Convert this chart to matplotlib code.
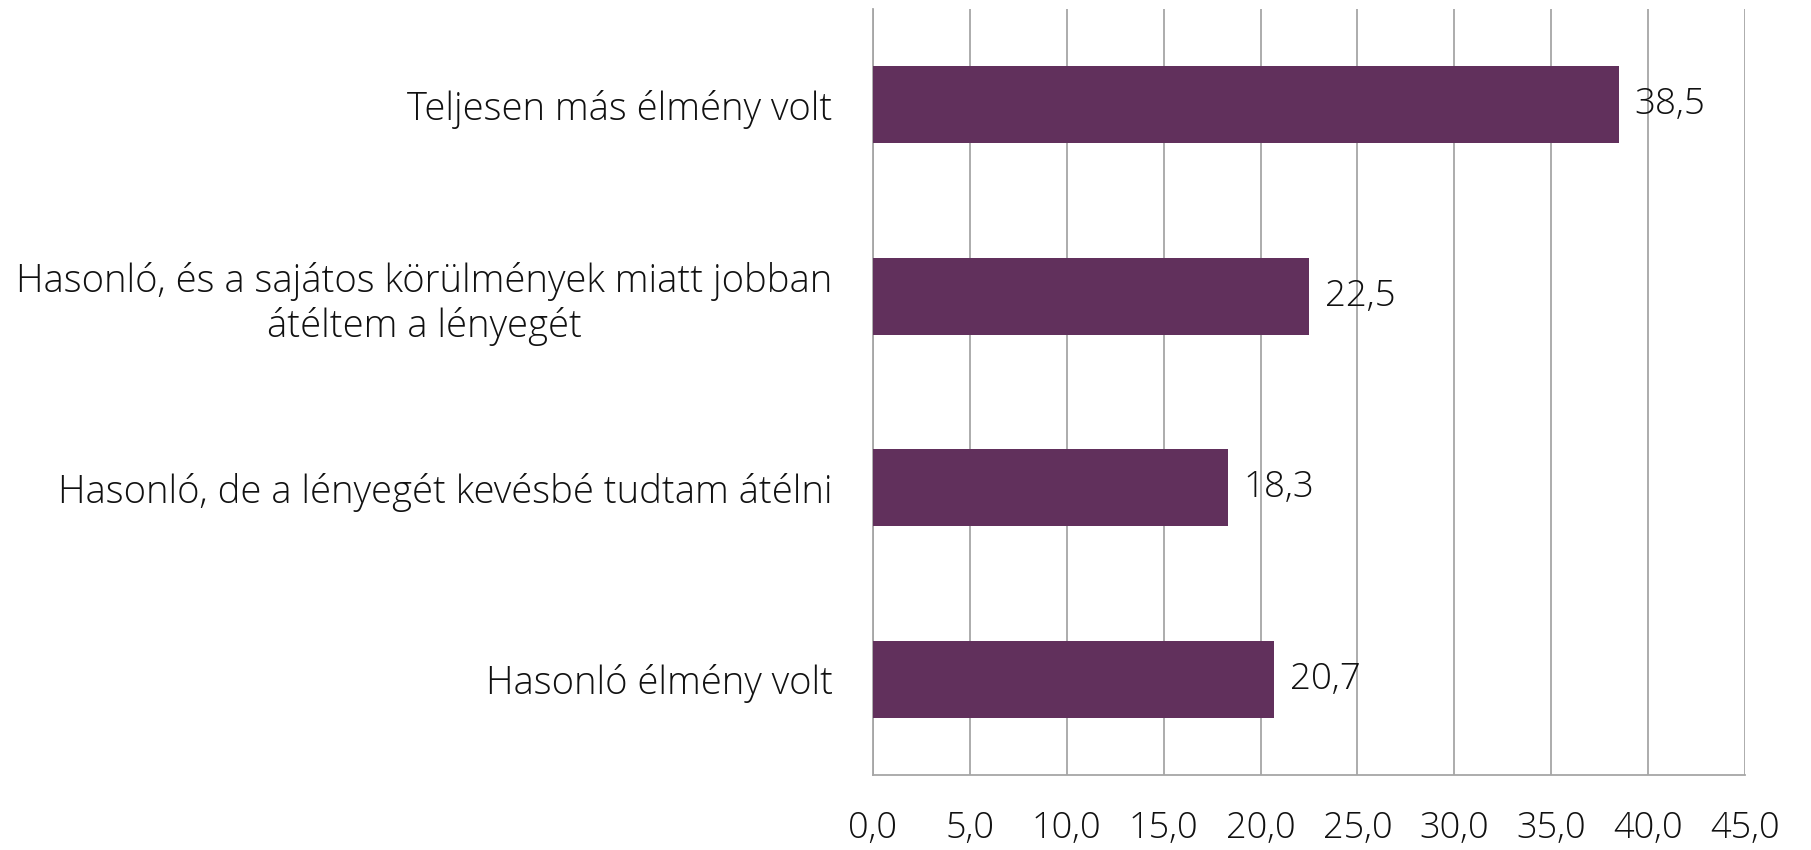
import matplotlib.pyplot as plt

# Válaszkategóriák (alulról felfelé) és százalékos értékek
categories = [
    "Hasonló élmény volt",
    "Hasonló, de a lényegét kevésbé tudtam átélni",
    "Hasonló, és a sajátos körülmények miatt jobban\nátéltem a lényegét",
    "Teljesen más élmény volt",
]
values = [20.7, 18.3, 22.5, 38.5]
xticks = [0, 5, 10, 15, 20, 25, 30, 35, 40, 45]

bar_color = "#61305c"
grid_color = "#a6a6a6"
text_color = "#111111"

plt.rcParams["font.family"] = ["Open Sans", "DejaVu Sans"]
plt.rcParams["font.weight"] = "light"

fig = plt.figure(figsize=(18.11, 8.5), dpi=100)
ax = fig.add_axes([873 / 1811, 1 - 775 / 850, (1745 - 873) / 1811, (775 - 9) / 850])

y = range(len(categories))
ax.barh(y, values, height=0.4, color=bar_color, zorder=3)

for yi, v in zip(y, values):
    ax.text(v + 0.8, yi, f"{v:.1f}".replace(".", ","), va="center", ha="left",
            fontsize=26.5, color=text_color, zorder=4)

ax.set_xlim(0, 45)
ax.set_ylim(-0.5, 3.5)
ax.set_xticks(xticks)
ax.set_xticklabels([f"{t:.1f}".replace(".", ",") for t in xticks], fontsize=26, color=text_color)
ax.set_yticks(list(y))
ax.set_yticklabels(categories, fontsize=27.5, color=text_color, ha="right", multialignment="center")
ax.tick_params(axis="x", length=0, pad=25)
ax.tick_params(axis="y", length=0, pad=29)

ax.grid(axis="x", color=grid_color, linewidth=1.3, zorder=0)
for side in ["top", "right"]:
    ax.spines[side].set_visible(False)
for side in ["left", "bottom"]:
    ax.spines[side].set_color(grid_color)
    ax.spines[side].set_linewidth(1.3)

fig.savefig("out.png", dpi=100)
